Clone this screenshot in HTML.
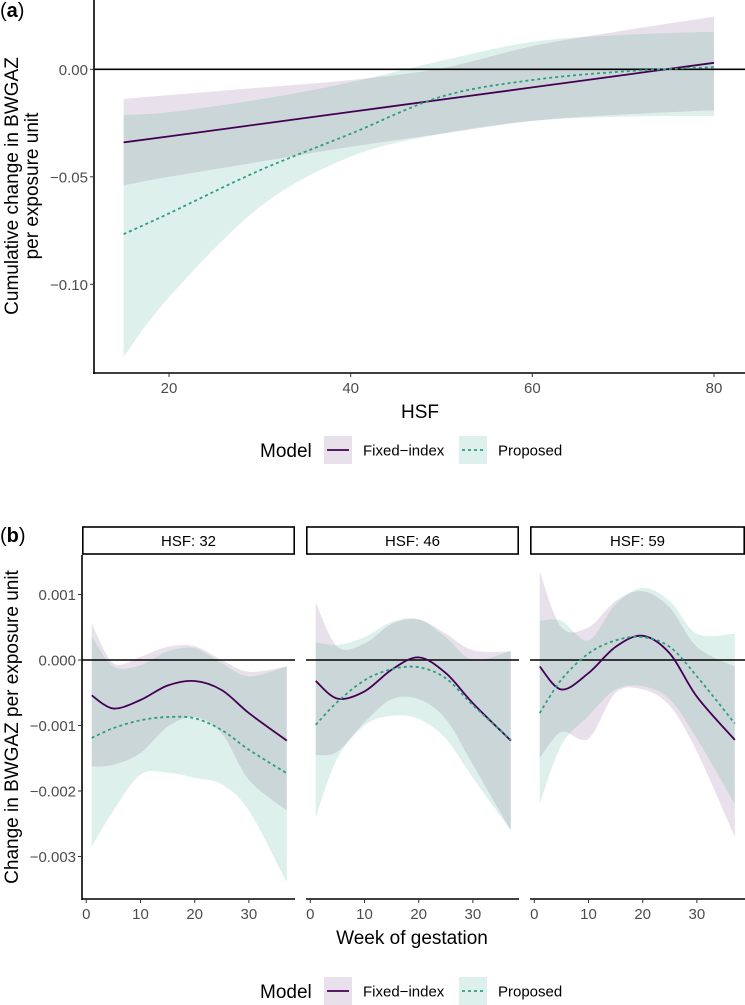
<!DOCTYPE html>
<html><head><meta charset="utf-8"><style>
body{margin:0;background:#fff}
svg{display:block;font-family:"Liberation Sans",sans-serif}
</style></head><body>
<svg id="chart" width="745" height="1005" viewBox="0 0 745 1005"></svg>
<script>
// ---------- Panel (a) data ----------
const aHSF = [15,20,30,40,50,60,70,80];
const aFixed = [-0.034,-0.0312,-0.0255,-0.0198,-0.0141,-0.0084,-0.0027,0.003];
const aFixedUp = [-0.0138,-0.012,-0.0085,-0.005,0.0005,0.0108,0.018,0.0245];
const aFixedLo = [-0.054,-0.050,-0.043,-0.036,-0.030,-0.024,-0.021,-0.019];
const aProp = [-0.0767,-0.067,-0.047,-0.030,-0.0127,-0.005,-0.001,0.001];
const aPropUp = [-0.0213,-0.020,-0.014,-0.006,0.004,0.0128,0.016,0.0175];
const aPropLo = [-0.1337,-0.106,-0.064,-0.0406,-0.030,-0.024,-0.022,-0.0217];
const aYTicks = [0,-0.05,-0.10];
const aYLabels = ["0.00","-0.05","-0.10"];
const aXTicks = [20,40,60,80];
// ---------- Panel (b) data ----------
const weeks = [1,5,10,15,20,25,30,37];
const facetLabels = ["HSF: 32","HSF: 46","HSF: 59"];
const bFixed = [
 [-0.00054,-0.00074,-0.00061,-0.00039,-0.00032,-0.00046,-0.00081,-0.00123],
 [-0.00032,-0.00059,-0.00048,-0.00015,0.00004,-0.0002,-0.00066,-0.00123],
 [-0.0001,-0.00045,-0.0002,0.0002,0.00037,0.0001,-0.00056,-0.00122]];
const bFixedUp = [
 [0.00056,-0.00005,0.00005,0.0002,0.00021,0,-0.00018,-0.0001],
 [0.00088,0.0002,0.00025,0.00055,0.00062,0.0004,0.00015,0.00013],
 [0.00135,0.0005,0.0005,0.0009,0.00105,0.0008,0.0002,-0.0001]];
const bFixedLo = [
 [-0.00163,-0.0016,-0.00142,-0.00102,-0.00087,-0.00112,-0.00183,-0.0023],
 [-0.00145,-0.0014,-0.00095,-0.0006,-0.0006,-0.0009,-0.0016,-0.0026],
 [-0.0015,-0.0011,-0.0012,-0.0005,-0.00045,-0.0007,-0.0014,-0.0027]];
const bProp = [
 [-0.00119,-0.00104,-0.00092,-0.00087,-0.00089,-0.00107,-0.00137,-0.00173],
 [-0.00099,-0.00064,-0.00031,-0.00014,-0.00011,-0.00028,-0.00069,-0.00122],
 [-0.00081,-0.0003,0.0001,0.0003,0.00035,0.0002,-0.00025,-0.00097]];
const bPropUp = [
 [0.00036,-0.0001,-0.00008,0.00013,0.00018,-0.00005,-0.00025,-0.0001],
 [0.00027,0.00023,0.00035,0.00058,0.00062,0.00035,0.0,0.00014],
 [0.0006,0.0006,0.0003,0.00085,0.0011,0.0009,0.0004,0.0004]];
const bPropLo = [
 [-0.00285,-0.0023,-0.00175,-0.00172,-0.0018,-0.0019,-0.0023,-0.0034],
 [-0.0024,-0.0015,-0.001,-0.00085,-0.0009,-0.0012,-0.0018,-0.0026],
 [-0.0022,-0.0013,-0.00085,-0.00045,-0.0004,-0.0006,-0.0012,-0.0022]];
const bYTicks = [0.001,0,-0.001,-0.002,-0.003];
const bYLabels = ["0.001","0.000","-0.001","-0.002","-0.003"];
const bXTicks = [0,10,20,30];

const NS="http://www.w3.org/2000/svg";
const svg=document.getElementById('chart');
const PURPLE="#440154", TEALF="#3aa58a", TEAL="#2e9e80";
const PO=0.12, TO=0.17;
function mk(tag,attrs,parent){const e=document.createElementNS(NS,tag);for(const k in attrs)e.setAttribute(k,attrs[k]);(parent||svg).appendChild(e);return e;}
function txt(x,y,s,size,anchor,parent,extra){const t=mk('text',Object.assign({x:x,y:y,'font-size':size,'text-anchor':anchor||'start',fill:'#000'},extra||{}),parent);t.textContent=s;return t;}
function spline(pts){
  let d="M"+pts[0][0].toFixed(1)+","+pts[0][1].toFixed(1);
  for(let i=0;i<pts.length-1;i++){
    const p0=pts[i-1]||pts[i],p1=pts[i],p2=pts[i+1],p3=pts[i+2]||p2;
    const c1=[p1[0]+(p2[0]-p0[0])/6,p1[1]+(p2[1]-p0[1])/6];
    const c2=[p2[0]-(p3[0]-p1[0])/6,p2[1]-(p3[1]-p1[1])/6];
    d+=" C"+c1[0].toFixed(1)+","+c1[1].toFixed(1)+" "+c2[0].toFixed(1)+","+c2[1].toFixed(1)+" "+p2[0].toFixed(1)+","+p2[1].toFixed(1);
  }
  return d;
}
function band(xs,up,lo,sx,sy){
  const u=xs.map((x,i)=>[sx(x),sy(up[i])]);
  const l=xs.map((x,i)=>[sx(x),sy(lo[i])]).reverse();
  return spline(u)+" L"+spline(l).slice(1)+" Z";
}
function line(xs,ys,sx,sy){return spline(xs.map((x,i)=>[sx(x),sy(ys[i])]));}

// ---------- Panel (a) ----------
const ga=mk('g',{});


const axA=v=>169+(v-20)*(714-169)/60;
const ayA=v=>69.3-v*2150;
const clipA=mk('clipPath',{id:'clipA'},ga);mk('rect',{x:94,y:0,width:651,height:373},clipA);
const plotA=mk('g',{'clip-path':'url(#clipA)'},ga);
let p=mk('path',{d:band(aHSF,aFixedUp,aFixedLo,axA,ayA),fill:PURPLE,'fill-opacity':PO},plotA);

p=mk('path',{d:band(aHSF,aPropUp,aPropLo,axA,ayA),fill:TEALF,'fill-opacity':TO},plotA);

p=mk('line',{x1:94,x2:745,y1:ayA(0),y2:ayA(0),stroke:'#000','stroke-width':1.6},plotA);

p=mk('path',{d:line(aHSF,aFixed,axA,ayA),fill:'none',stroke:PURPLE,'stroke-width':1.8},plotA);

p=mk('path',{d:line(aHSF,aProp,axA,ayA),fill:'none',stroke:TEAL,'stroke-width':1.8,'stroke-dasharray':'3,3'},plotA);

mk('line',{x1:94,x2:94,y1:0,y2:374,stroke:'#000','stroke-width':1.6},ga);
mk('line',{x1:93,x2:745,y1:373,y2:373,stroke:'#000','stroke-width':1.6},ga);
aYTicks.forEach((v,i)=>{mk('line',{x1:90,x2:94,y1:ayA(v),y2:ayA(v),stroke:'#333'},ga);
 const t=txt(88,ayA(v)+5.5,aYLabels[i].replace('-','\u2212'),15,'end',ga,{fill:'#4d4d4d'});
 });
aXTicks.forEach(v=>{mk('line',{x1:axA(v),x2:axA(v),y1:373,y2:377,stroke:'#333'},ga);
 const t=txt(axA(v),393,String(v),15,'middle',ga,{fill:'#4d4d4d'});
 });
let t=txt(420,418,'HSF',19,'middle',ga);
t=txt(0,0,'Cumulative change in BWGAZ',19,'middle',ga,{transform:'translate(18,186) rotate(-90)'});

t=txt(0,0,'per exposure unit',19,'middle',ga,{transform:'translate(38,186) rotate(-90)'});

t=txt(0,17,'(',20,'start',ga);
t.innerHTML='(<tspan font-weight="bold">a</tspan>)';

function legend(y,name){
 const g=mk('g',{});
 
 let t=txt(260,y+7,'Model',19,'start',g);
 const e1=mk('g',{},g);
 mk('rect',{x:324,y:y-14,width:28,height:28,fill:PURPLE,'fill-opacity':PO},e1);
 mk('line',{x1:327,x2:349,y1:y,y2:y,stroke:PURPLE,'stroke-width':1.8},e1);
 txt(363,y+5.5,'Fixed\u2212index',15,'start',e1);
 const e2=mk('g',{},g);
 mk('rect',{x:459,y:y-14,width:28,height:28,fill:TEALF,'fill-opacity':TO},e2);
 mk('line',{x1:462,x2:484,y1:y,y2:y,stroke:TEAL,'stroke-width':1.8,'stroke-dasharray':'3,3'},e2);
 txt(498,y+5.5,'Proposed',15,'start',e2);
}
legend(450,'legend-a');

// ---------- Panel (b) ----------
const gb=mk('g',{});


const ayB=v=>660-v*65500;
const panelX=[82,306,530];
t=txt(0,542,'',20,'start',gb);t.innerHTML='(<tspan font-weight="bold">b</tspan>)';

facetLabels.forEach((lab,k)=>{
 const L=panelX[k],W=(k==2?215:213);
 const sx=w=>L+4.3+5.42*w;
 const g=mk('g',{},gb);
 
 const sr=mk('rect',{x:L+0.8,y:527,width:W-1.6,height:27,fill:'#fff',stroke:'#000','stroke-width':1.6},g);
 
 const st=txt(L+W/2,546,lab,15,'middle',g);
 const cid='clipB'+k;const cp=mk('clipPath',{id:cid},g);mk('rect',{x:L,y:555,width:W,height:344},cp);
 const pg=mk('g',{'clip-path':'url(#'+cid+')'},g);
 let p=mk('path',{d:band(weeks,bFixedUp[k],bFixedLo[k],sx,ayB),fill:PURPLE,'fill-opacity':PO},pg);
 
 p=mk('path',{d:band(weeks,bPropUp[k],bPropLo[k],sx,ayB),fill:TEALF,'fill-opacity':TO},pg);
 
 p=mk('line',{x1:L,x2:L+W,y1:ayB(0),y2:ayB(0),stroke:'#000','stroke-width':1.6},pg);
 
 p=mk('path',{d:line(weeks,bFixed[k],sx,ayB),fill:'none',stroke:PURPLE,'stroke-width':1.8},pg);
 
 p=mk('path',{d:line(weeks,bProp[k],sx,ayB),fill:'none',stroke:TEAL,'stroke-width':1.8,'stroke-dasharray':'3,3'},pg);
 
 mk('line',{x1:L,x2:L+W,y1:899,y2:899,stroke:'#000','stroke-width':1.6},g);
 bXTicks.forEach(v=>{mk('line',{x1:sx(v),x2:sx(v),y1:899,y2:903,stroke:'#333'},g);
  const tt=txt(sx(v),919,String(v),15,'middle',g,{fill:'#4d4d4d'});
  });
});
mk('line',{x1:82,x2:82,y1:555,y2:900,stroke:'#000','stroke-width':1.6},gb);
bYTicks.forEach((v,i)=>{mk('line',{x1:78,x2:82,y1:ayB(v),y2:ayB(v),stroke:'#333'},gb);
 const tt=txt(76,ayB(v)+5.5,bYLabels[i].replace('-','\u2212'),15,'end',gb,{fill:'#4d4d4d'});
 });
t=txt(412,944,'Week of gestation',19,'middle',gb);
t=txt(0,0,'Change in BWGAZ per exposure unit',19,'middle',gb,{transform:'translate(18,727) rotate(-90)'});

legend(991,'legend-b');
</script>
</body></html>
